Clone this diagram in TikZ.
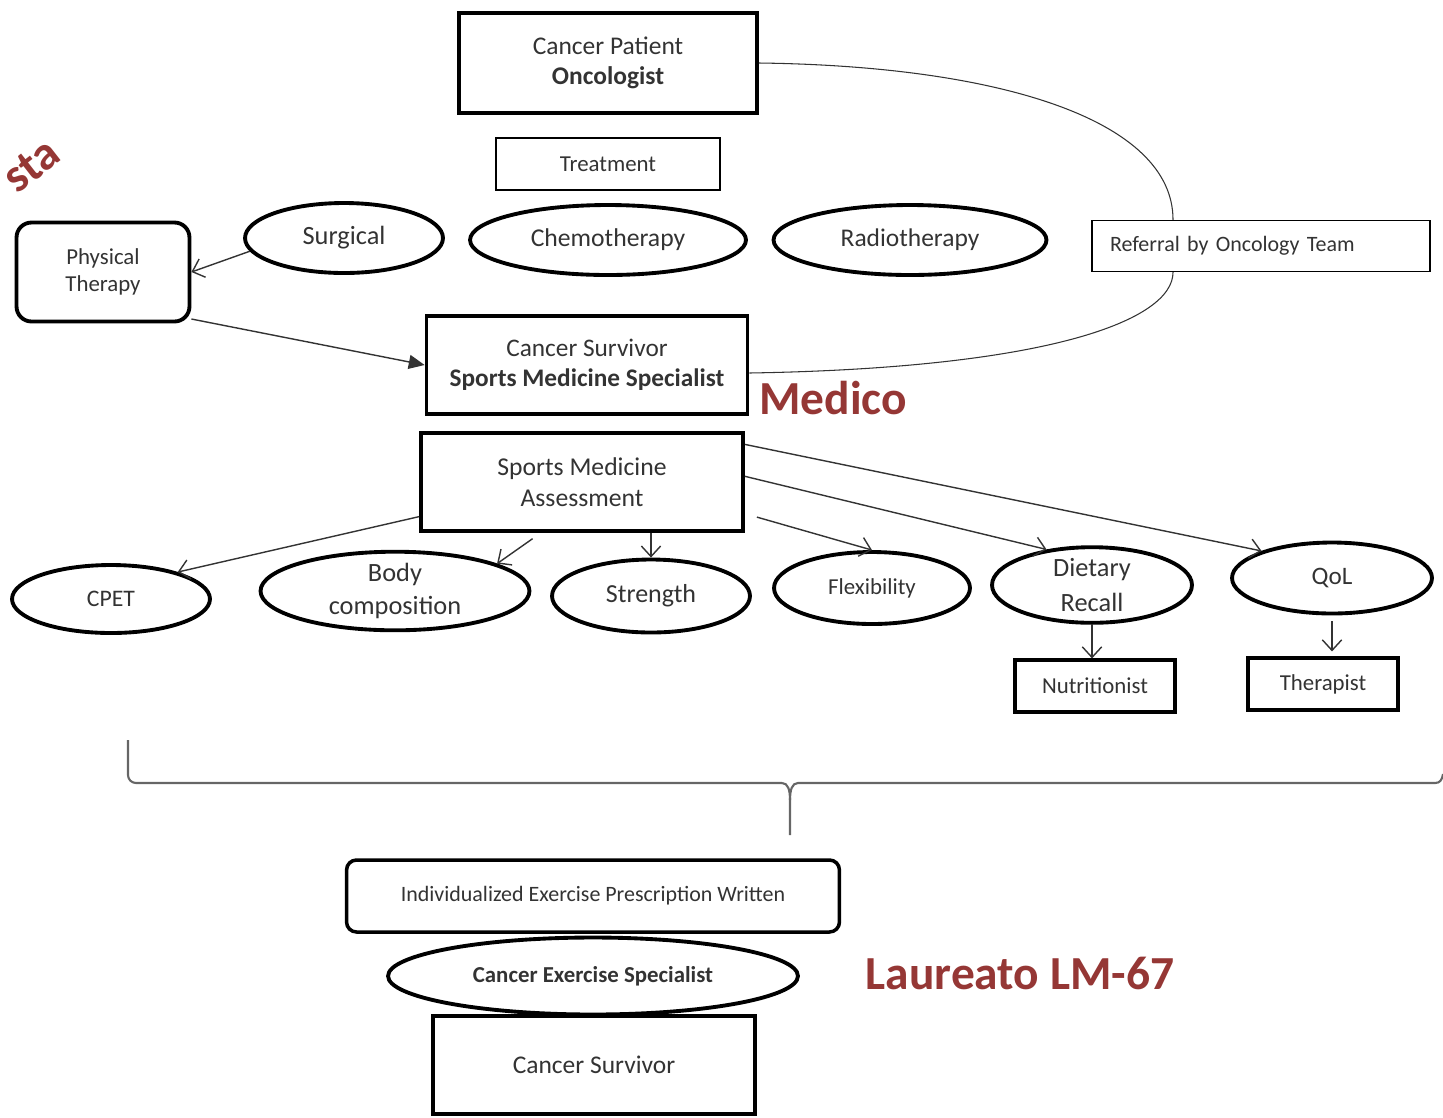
\documentclass[tikz,border=0pt]{standalone}
\usepackage{fontspec}
\setmainfont{Carlito}
\usepackage{tikz}
\usetikzlibrary{arrows.meta}
\usetikzlibrary{shapes.geometric}

\tikzset{
  box/.style={draw, line width=2.2pt, inner sep=0pt, align=center, text=black!80},
  oval/.style={draw, ellipse, line width=2.2pt, inner sep=0pt, align=center, text=black!80},
  link/.style={line width=0.8pt, black!80, -{Straight Barb[length=6pt,width=11pt]}},
  redtext/.style={font=\fontsize{27}{30}\selectfont\bfseries, text=darkred}
}

\begin{document}
\begin{tikzpicture}[x=0.02cm, y=-0.02cm]
    \definecolor{darkred}{HTML}{953735}
    \useasboundingbox (0,0) rectangle (1443,1117);

    % oncology part
    \node[box, minimum width=5.96cm, minimum height=2cm, font=\fontsize{14.5}{17}\selectfont] (onco) at (608,63) {Cancer Patient\\\textbf{Oncologist}};
    \node[box, line width=1.6pt, minimum width=4.48cm, minimum height=1.04cm, font=\fontsize{13}{15}\selectfont] (treat) at (608,164) {Treatment};
    \node[oval, minimum width=3.96cm, minimum height=1.4cm, font=\fontsize{15}{18}\selectfont] (surg) at (344,238) {Surgical};
    \node[oval, minimum width=5.52cm, minimum height=1.4cm, font=\fontsize{14.6}{18}\selectfont] (chemo) at (608,240) {Chemotherapy};
    \node[oval, minimum width=5.46cm, minimum height=1.4cm, font=\fontsize{14.5}{18}\selectfont] (radio) at (910,240) {Radiotherapy};
    \node[box, line width=0.8pt, minimum height=1.02cm, inner xsep=0.36cm, text width=6.04cm, align=left, font=\fontsize{12.5}{15}\selectfont] (referral) at (1261,246) {Referral by Oncology Team};
    \node[box, rounded corners=0.3cm, minimum width=3.46cm, minimum height=1.98cm, font=\fontsize{13}{15.4}\selectfont] (pt) at (103,272) {Physical\\Therapy};
    \node[redtext, rotate=38, anchor=base east] (fisio) at (68,155) {sta};  %cut at the border

    % sports medicine part
    \node[box, minimum width=6.42cm, minimum height=1.96cm, font=\fontsize{14.4}{17}\selectfont] (surv) at (587,365) {Cancer Survivor\\\textbf{Sports Medicine Specialist}};
    \node[redtext] (medico) at (833,398) {Medico};
    \node[box, minimum width=6.44cm, minimum height=1.96cm, font=\fontsize{14.6}{17.6}\selectfont] (assess) at (582,482) {Sports Medicine\\Assessment};
    \node[oval, minimum width=3.96cm, minimum height=1.36cm, font=\fontsize{13.5}{16}\selectfont] (cpet) at (111,599) {CPET};
    \node[oval, minimum width=5.38cm, minimum height=1.46cm, font=\fontsize{15}{18.8}\selectfont] (body) at (395,591) {Body\\composition};
    \node[oval, minimum width=3.96cm, minimum height=1.46cm, font=\fontsize{14.8}{18}\selectfont] (strength) at (651,596) {Strength};
    \node[oval, minimum width=3.92cm, minimum height=1.44cm, font=\fontsize{13}{16}\selectfont] (flex) at (872,588) {Flexibility};
    \node[oval, minimum width=4cm, minimum height=1.48cm, font=\fontsize{15}{20}\selectfont] (diet) at (1092,585) {Dietary\\Recall};
    \node[oval, minimum width=4cm, minimum height=1.42cm, font=\fontsize{14.3}{17}\selectfont] (qol) at (1332,578) {QoL};
    \node[box, line width=1.8pt, minimum width=3.2cm, minimum height=1.04cm, font=\fontsize{13}{15}\selectfont] (nutri) at (1095,686) {Nutritionist};
    \node[box, line width=1.8pt, minimum width=3cm, minimum height=1.04cm, font=\fontsize{13}{15}\selectfont] (therap) at (1323,684) {Therapist};

    % exercise part
    \node[box, line width=2pt, rounded corners=0.2cm, minimum width=9.86cm, minimum height=1.44cm, font=\fontsize{12.5}{15}\selectfont] (presc) at (593,896) {Individualized Exercise Prescription Written};
    \node[oval, minimum width=8.2cm, minimum height=1.54cm, font=\fontsize{13}{15}\selectfont] (spec) at (593,976) {\textbf{Cancer Exercise Specialist}};
    \node[box, minimum width=6.44cm, minimum height=1.96cm, font=\fontsize{14.5}{17}\selectfont] (cs) at (594,1065) {Cancer Survivor};
    \node[redtext] (laureato) at (1020,973) {Laureato LM-67};

    % connectors
    \draw[line width=0.6pt, black!80] (onco.east) .. controls (1000,66) and (1173,120) .. ([xshift=-1.76cm]referral.north);  %referral
    \draw[line width=0.6pt, black!80] ([xshift=-1.76cm]referral.south) .. controls (1173,320) and (1050,368) .. ([yshift=-0.16cm]surv.east);
    \draw[link] (surg.188) -- (pt.east);
    \draw[line width=0.8pt, black!80, -{Triangle[length=9pt,width=8pt]}] (pt.-28) -- (surv.west);
    \draw[link] (assess.192) -- (cpet.22);
    \draw[link, shorten <=0.2cm] (assess.231) -- (body.15);
    \draw[link] (assess.south -| strength.north) -- (strength.north);
    \draw[link, shorten <=0.25cm] (assess.349) -- (flex.north);
    \draw[link] (assess.2) -- (diet.142);
    \draw[link] (assess.13) -- (qol.159);
    \draw[link] (diet.south) -- (diet.south |- nutri.north);
    \draw[link, shorten <=0.12cm, shorten >=0.1cm] (qol.south) -- (qol.south |- therap.north);

    % brace
    \draw[line width=1.2pt, black!60, rounded corners=0.16cm] (128,740) -- (128,783) -- (782,783);
    \draw[line width=1.2pt, black!60] (782,783) .. controls (788,783) and (790,790) .. (790,800) -- (790,835);
    \draw[line width=1.2pt, black!60] (790,800) .. controls (790,790) and (792,783) .. (798,783) -- (1435,783) .. controls (1440,783) and (1442,780) .. (1443,774);
\end{tikzpicture}
\end{document}
